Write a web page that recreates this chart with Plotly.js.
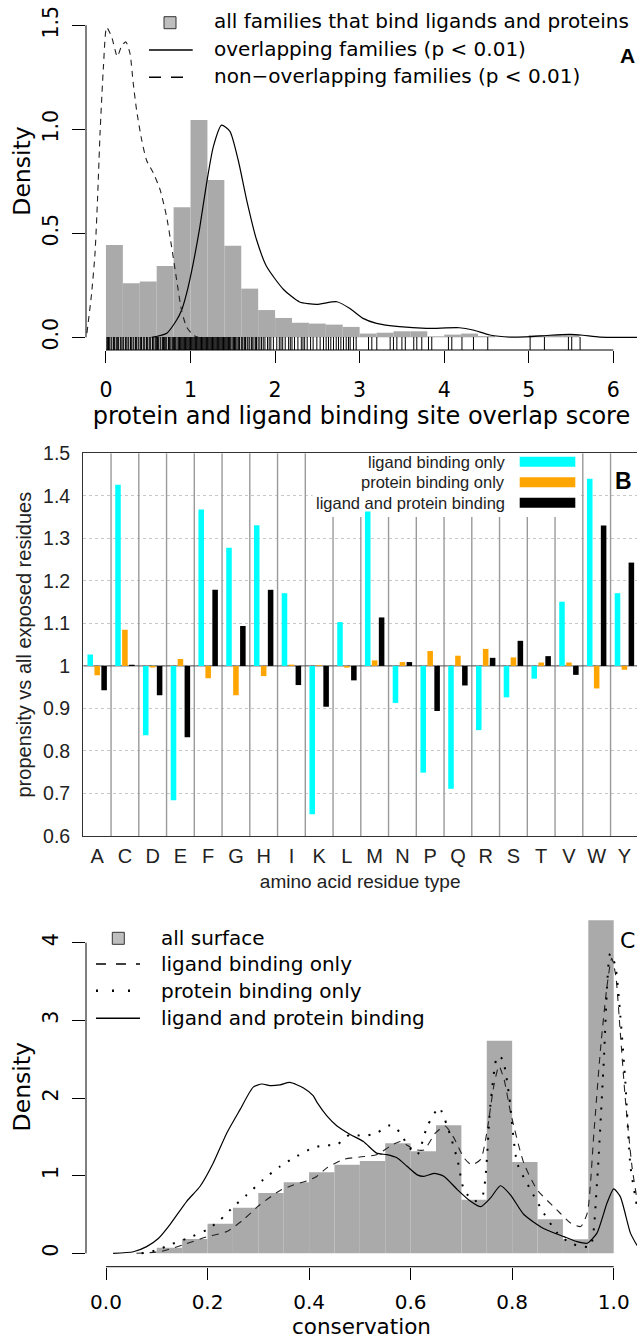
<!DOCTYPE html>
<html><head><meta charset="utf-8">
<script src="https://cdn.plot.ly/plotly-3.0.1.min.js"></script>
<style>html,body{margin:0;padding:0;background:#fff}#chart{width:637px;height:1341px}</style>
</head><body><div id="chart"></div>
<script>
// ---------------- Panel A data ----------------
const histA_mid = [0.1,0.3,0.5,0.7,0.9,1.1,1.3,1.5,1.7,1.9,2.1,2.3,2.5,2.7,2.9,3.1,3.3,3.5,3.7,3.9,4.1,4.3,4.5,4.7,4.9,5.1,5.3,5.5];
const histA_density = [0.444,0.26,0.268,0.343,0.625,1.045,0.756,0.44,0.234,0.131,0.093,0.07,0.066,0.061,0.05,0.018,0.022,0.029,0.029,0.005,0.013,0.018,0.006,0,0,0.011,0.011,0.011];
const overlapX = [0.54,0.72,0.836,0.894,0.953,1.032,1.11,1.19,1.27,1.367,1.466,1.565,1.664,1.78,1.9,2.1,2.29,2.49,2.73,2.88,3.04,3.2,3.47,3.79,4.18,4.34,4.54,4.78,5.02,5.25,5.49,5.64,5.84,6.28];
const overlapY = [0,0.02,0.083,0.13,0.21,0.356,0.53,0.74,0.917,1.02,0.99,0.85,0.66,0.47,0.34,0.23,0.17,0.158,0.171,0.14,0.091,0.067,0.051,0.043,0.046,0.035,0.011,0.001,0.003,0.01,0.014,0.01,0.001,0];
const nonOverlapX = [-0.225,-0.17,-0.13,-0.1,-0.07,-0.03,0.008,0.067,0.134,0.185,0.236,0.284,0.323,0.363,0.422,0.481,0.56,0.64,0.717,0.776,0.836,0.894,0.953,1.03,1.09];
const nonOverlapY = [0.02,0.21,0.4,0.66,0.98,1.3,1.49,1.445,1.35,1.4,1.42,1.365,1.22,1.09,0.95,0.85,0.79,0.71,0.58,0.436,0.276,0.13,0.05,0.011,0];
const rugA = [0.01,0.02,0.03,0.04,0.06,0.07,0.09,0.1,0.12,0.13,0.14,0.15,0.17,0.18,0.2,0.21,0.23,0.24,0.26,0.27,0.29,0.3,0.32,0.33,0.35,0.36,0.38,0.39,0.41,0.42,0.44,0.45,0.46,0.48,0.49,0.51,0.52,0.53,0.55,0.56,0.58,0.59,0.6,0.61,0.62,0.64,0.65,0.67,0.68,0.69,0.7,0.71,0.72,0.74,0.75,0.76,0.78,0.79,0.8,0.81,0.82,0.83,0.85,0.86,0.87,0.88,0.89,0.9,0.91,0.92,0.93,0.94,0.95,0.96,0.97,0.98,0.99,1.0,1.01,1.02,1.03,1.04,1.05,1.06,1.07,1.08,1.09,1.1,1.11,1.12,1.13,1.14,1.15,1.16,1.17,1.18,1.19,1.2,1.21,1.22,1.23,1.24,1.25,1.26,1.27,1.28,1.29,1.3,1.31,1.32,1.33,1.34,1.35,1.36,1.37,1.38,1.39,1.4,1.41,1.42,1.43,1.44,1.45,1.46,1.47,1.48,1.5,1.51,1.52,1.53,1.54,1.56,1.57,1.58,1.6,1.61,1.62,1.64,1.65,1.67,1.68,1.7,1.72,1.73,1.75,1.77,1.78,1.8,1.82,1.84,1.86,1.88,1.91,1.93,1.95,1.98,2.02,2.05,2.07,2.09,2.12,2.16,2.18,2.2,2.23,2.27,2.31,2.33,2.35,2.38,2.42,2.45,2.494,2.533,2.573,2.604,2.632,2.659,2.691,2.723,2.75,2.778,2.809,2.841,2.868,2.888,2.928,2.959,3.105,3.144,3.203,3.361,3.40,3.44,3.50,3.54,3.64,3.676,3.735,3.814,3.853,4.05,4.09,4.21,4.346,4.515,5.016,5.185,5.469,5.508,5.607];

// ---------------- Panel B data ----------------
const residues = ['A','C','D','E','F','G','H','I','K','L','M','N','P','Q','R','S','T','V','W','Y'];
const ligandOnly       = [1.027,1.426,0.837,0.684,1.368,1.278,1.331,1.171,0.651,1.103,1.363,0.913,0.749,0.711,0.849,0.926,0.970,1.151,1.440,1.171];
const proteinOnly      = [0.978,1.085,0.996,1.016,0.971,0.931,0.976,1.003,1.002,0.996,1.013,1.009,1.035,1.024,1.040,1.020,1.008,1.008,0.947,0.991];
const ligandAndProtein = [0.943,1.003,0.931,0.832,1.179,1.094,1.179,0.955,0.904,0.966,1.114,1.009,0.894,0.954,1.019,1.059,1.023,0.979,1.330,1.243];
const bTickVals = [0.6,0.7,0.8,0.9,1.0,1.1,1.2,1.3,1.4,1.5];
const bTickText = ['0.6','0.7','0.8','0.9','1','1.1','1.2','1.3','1.4','1.5'];

// ---------------- Panel C data ----------------
const histC_mid = [0.125,0.175,0.225,0.275,0.325,0.375,0.425,0.475,0.525,0.575,0.625,0.675,0.725,0.775,0.825,0.875,0.925,0.975];
const histC_density = [0.073,0.185,0.38,0.586,0.776,0.914,1.045,1.14,1.19,1.418,1.315,1.65,0.69,2.737,1.177,0.44,0.18,4.29];
const ligOnlyX = [0.06,0.106,0.152,0.198,0.238,0.27,0.303,0.343,0.369,0.395,0.415,0.435,0.468,0.5,0.533,0.56,0.58,0.606,0.626,0.649,0.668,0.685,0.705,0.72,0.738,0.75,0.764,0.774,0.784,0.797,0.823,0.849,0.888,0.915,0.935,0.948,0.961,0.974,0.987,0.996,1.004,1.013,1.023,1.036,1.046];
const ligOnlyY = [0,0.02,0.11,0.21,0.28,0.43,0.625,0.81,0.88,0.93,0.99,1.1,1.21,1.24,1.27,1.38,1.44,1.34,1.33,1.55,1.64,1.49,1.23,1.14,1.21,1.55,2.16,2.41,2.24,1.81,1.16,0.82,0.56,0.39,0.345,0.52,1.55,2.63,3.45,3.8,3.58,2.84,1.98,1.12,0.69];
const protOnlyX = [0.07,0.1,0.126,0.159,0.198,0.225,0.251,0.277,0.31,0.343,0.376,0.408,0.429,0.455,0.481,0.507,0.533,0.56,0.58,0.593,0.613,0.633,0.656,0.672,0.692,0.705,0.725,0.741,0.757,0.771,0.781,0.794,0.81,0.836,0.862,0.889,0.915,0.935,0.954,0.967,0.98,0.993,1.003,1.013,1.023,1.033,1.046];
const protOnlyY = [0,0.04,0.11,0.19,0.3,0.43,0.6,0.75,0.95,1.12,1.25,1.36,1.39,1.4,1.53,1.51,1.55,1.65,1.55,1.4,1.27,1.64,1.875,1.64,1.21,0.82,0.67,0.73,1.9,2.54,2.5,2.03,1.16,0.82,0.52,0.26,0.13,0.09,0.09,0.9,2.41,3.86,3.71,3.06,2.2,1.12,0.6];
const bothX = [0.014,0.054,0.08,0.103,0.126,0.159,0.185,0.211,0.238,0.264,0.29,0.307,0.323,0.343,0.362,0.389,0.408,0.416,0.435,0.455,0.481,0.507,0.533,0.553,0.573,0.593,0.613,0.626,0.646,0.666,0.692,0.718,0.738,0.757,0.777,0.797,0.823,0.862,0.902,0.928,0.948,0.967,0.987,1.0,1.013,1.033,1.046];
const bothY = [0,0.02,0.086,0.19,0.37,0.67,0.86,1.16,1.55,1.85,2.14,2.18,2.16,2.17,2.2,2.13,2.03,1.94,1.77,1.64,1.53,1.44,1.29,1.27,1.23,1.12,1.01,0.99,1.03,0.99,0.82,0.67,0.6,0.71,0.87,0.75,0.5,0.32,0.215,0.15,0.13,0.26,0.65,0.83,0.73,0.26,0.1];

// ---------------- layout helpers ----------------
const W = 637, H = 1341;
const px = v => v / W;
const py = v => 1 - v / H;
const FA = 'DejaVu Sans, sans-serif';
const FB = 'Liberation Sans, Arial, sans-serif';
const GRAY = '#aaaaaa';

const traces = [
  {type:'bar', x:histA_mid, y:histA_density, width:0.2, marker:{color:GRAY, line:{width:0}}, xaxis:'x', yaxis:'y', hoverinfo:'skip'},
  {type:'scatter', mode:'lines', x:overlapX, y:overlapY, line:{color:'black', width:1.2, shape:'spline', smoothing:0.6}, xaxis:'x', yaxis:'y'},
  {type:'scatter', mode:'lines', x:nonOverlapX, y:nonOverlapY, line:{color:'#222', width:1.1, dash:'6px,5px', shape:'spline', smoothing:0.6}, xaxis:'x', yaxis:'y'},
  {type:'scatter', mode:'markers', x:rugA, y:rugA.map(() => -0.0355), marker:{symbol:'line-ns-open', size:11, color:'black', line:{width:1, color:'black'}}, xaxis:'x', yaxis:'y'},

  {type:'bar', x:residues, y:ligandOnly.map(v => v - 1), base:1, width:0.2, offset:-0.35, marker:{color:'#00FFFF'}, xaxis:'x2', yaxis:'y2'},
  {type:'bar', x:residues, y:proteinOnly.map(v => v - 1), base:1, width:0.2, offset:-0.1, marker:{color:'#FFA500'}, xaxis:'x2', yaxis:'y2'},
  {type:'bar', x:residues, y:ligandAndProtein.map(v => v - 1), base:1, width:0.2, offset:0.15, marker:{color:'#000000'}, xaxis:'x2', yaxis:'y2'},

  {type:'bar', x:histC_mid, y:histC_density, width:0.05, marker:{color:GRAY, line:{width:0}}, xaxis:'x3', yaxis:'y3'},
  {type:'scatter', mode:'lines', x:ligOnlyX, y:ligOnlyY, line:{color:'#222', width:1.1, dash:'7px,6px', shape:'spline', smoothing:0.6}, xaxis:'x3', yaxis:'y3'},
  {type:'scatter', mode:'lines', x:protOnlyX, y:protOnlyY, line:{color:'black', width:2, dash:'2px,9px', shape:'spline', smoothing:0.6}, xaxis:'x3', yaxis:'y3'},
  {type:'scatter', mode:'lines', x:bothX, y:bothY, line:{color:'black', width:1.2, shape:'spline', smoothing:0.6}, xaxis:'x3', yaxis:'y3'}
];

const rAxis = {showgrid:false, zeroline:false, showline:false, ticks:'outside', ticklen:12, tickwidth:1, tickcolor:'black', tickfont:{family:FA, size:20.5, color:'black'}};

const layout = {
  width:W, height:H, margin:{l:0, r:0, t:0, b:0}, paper_bgcolor:'white', plot_bgcolor:'rgba(0,0,0,0)',
  showlegend:false, barmode:'overlay',
  xaxis: Object.assign({}, rAxis, {domain:[px(86),1], range:[-0.236,6.28], tickvals:[0,1,2,3,4,5,6], anchor:'y',
    ticklabelstandoff:9,
    title:{text:'protein and ligand binding site overlap score', font:{family:FA, size:24, color:'black'}, standoff:2}}),
  yaxis: Object.assign({}, rAxis, {domain:[py(350),py(12.8)], range:[-0.061,1.56], tickvals:[0,0.5,1,1.5], ticktext:['0.0','0.5','1.0','1.5'], tickangle:-90, ticklen:13, anchor:'x', ticklabelstandoff:6}),

  xaxis2: {domain:[px(83.3),1], range:[-0.5,19.453], anchor:'y2', type:'category', showgrid:false, zeroline:false,
    showline:true, mirror:true, linecolor:'#333', linewidth:1.2, ticks:'', tickfont:{family:FB, size:20, color:'#222'},
    ticklabelstandoff:2,
    title:{text:'amino acid residue type', font:{family:FB, size:19, color:'#222'}, standoff:8}},
  yaxis2: {domain:[py(836),py(453.3)], range:[0.6,1.5], anchor:'x2', tickvals:bTickVals, ticktext:bTickText,
    showgrid:true, gridcolor:'#c8c8c8', griddash:'dot', gridwidth:1, zeroline:false,
    showline:true, linecolor:'#333', linewidth:1.2, ticks:'', tickfont:{family:FB, size:19.5, color:'#222'},
    ticklabelstandoff:8,
    title:{text:'propensity vs all exposed residues', font:{family:FB, size:20, color:'#222'}, standoff:6}},

  xaxis3: Object.assign({}, rAxis, {domain:[px(86),1], range:[-0.0394,1.0459], tickvals:[0,0.2,0.4,0.6,0.8,1.0], ticktext:['0.0','0.2','0.4','0.6','0.8','1.0'], anchor:'y3',
    ticklabelstandoff:5, tickfont:{family:FA, size:20, color:'black'},
    title:{text:'conservation', font:{family:FA, size:21.5, color:'black'}, standoff:0}}),
  yaxis3: Object.assign({}, rAxis, {domain:[py(1266.7),py(919.4)], range:[-0.1726,4.3], tickvals:[0,1,2,3,4], tickangle:-90, ticklen:13, anchor:'x3', ticklabelstandoff:6}),

  shapes: [], annotations: []
};

const S = layout.shapes, A = layout.annotations;
// R-style axis lines (span first to last tick only)
S.push({type:'line', xref:'x', yref:'y domain', x0:0, x1:6, y0:0, y1:0, line:{color:'black', width:1}});
S.push({type:'line', xref:'x domain', yref:'y', x0:0, x1:0, y0:0, y1:1.5, line:{color:'black', width:1}});
S.push({type:'line', xref:'x3', yref:'y3 domain', x0:0, x1:1, y0:0, y1:0, line:{color:'black', width:1}});
S.push({type:'line', xref:'x3 domain', yref:'y3', x0:0, x1:0, y0:0, y1:4, line:{color:'black', width:1}});

// Panel B: legend backdrop (hides the gridline behind the legend), category separators, baseline
S.push({type:'rect', xref:'x2', yref:'y2', x0:7.76, x1:17.36, y0:1.362, y1:1.497, layer:'between', fillcolor:'white', line:{width:0}});
residues.slice(0, -1).forEach((r, i) => {
  const underLegend = i >= 8 && i <= 16;
  S.push({type:'line', xref:'x2', yref:'y2', x0:i + 0.5, x1:i + 0.5, y0:0.6, y1:underLegend ? 1.35 : 1.5, layer:'between', line:{color:'#9a9a9a', width:1.4}});
});
S.push({type:'line', xref:'x2', yref:'y2', x0:-0.5, x1:19.5, y0:1, y1:1, layer:'between', line:{color:'#555', width:1}});

// Legend A
S.push({type:'rect', xref:'paper', yref:'paper', x0:px(164), x1:px(176), y0:py(28.7), y1:py(16.7), fillcolor:'#bebebe', line:{color:'#333', width:1}});
S.push({type:'line', xref:'paper', yref:'paper', x0:px(149), x1:px(192.7), y0:py(50), y1:py(50), line:{color:'black', width:1.5}});
S.push({type:'line', xref:'paper', yref:'paper', x0:px(149), x1:px(192.7), y0:py(77.3), y1:py(77.3), line:{color:'black', width:1.5, dash:'12px,10px'}});
const legA = ['all families that bind ligands and proteins','overlapping families (p < 0.01)','non\u2212overlapping families (p < 0.01)'];
[21.5, 49, 76.5].forEach((y, i) => A.push({xref:'paper', yref:'paper', x:px(211.7), y:py(y), xanchor:'left', yanchor:'middle', text:legA[i], showarrow:false, font:{family:FA, size:20, color:'black'}}));
A.push({xref:'paper', yref:'paper', x:px(627), y:py(55), xanchor:'center', yanchor:'middle', text:'<b>A</b>', showarrow:false, font:{family:FB, size:21, color:'black'}});
A.push({xref:'paper', yref:'paper', x:px(21.7), y:py(171), xanchor:'center', yanchor:'middle', textangle:-90, text:'Density', showarrow:false, font:{family:FA, size:23.5, color:'black'}});

// Legend B
const legB = ['ligand binding only','protein binding only','ligand and protein binding'];
const colB = ['#00FFFF','#FFA500','#000000'];
[461.7, 482.3, 502.7].forEach((y, i) => {
  A.push({xref:'paper', yref:'paper', x:px(507), y:py(y), xanchor:'right', yanchor:'middle', text:legB[i], showarrow:false, font:{family:FB, size:16.5, color:'#222'}});
  S.push({type:'rect', xref:'paper', yref:'paper', x0:px(519.7), x1:px(575.3), y0:py(y + 5), y1:py(y - 5), fillcolor:colB[i], line:{width:0}});
});
A.push({xref:'paper', yref:'paper', x:px(623.7), y:py(481), xanchor:'center', yanchor:'middle', text:'<b>B</b>', showarrow:false, font:{family:FB, size:23, color:'black'}});

// Legend C
S.push({type:'rect', xref:'paper', yref:'paper', x0:px(112.3), x1:px(124.3), y0:py(944.3), y1:py(932.3), fillcolor:'#bebebe', line:{color:'#333', width:1}});
S.push({type:'line', xref:'paper', yref:'paper', x0:px(96), x1:px(140), y0:py(964), y1:py(964), line:{color:'black', width:1.5, dash:'10px,10px'}});
S.push({type:'line', xref:'paper', yref:'paper', x0:px(96), x1:px(140), y0:py(990.7), y1:py(990.7), line:{color:'black', width:2.5, dash:'2px,14px'}});
S.push({type:'line', xref:'paper', yref:'paper', x0:px(96), x1:px(140), y0:py(1018.3), y1:py(1018.3), line:{color:'black', width:1.5}});
const legC = ['all surface','ligand binding only','protein binding only','ligand and protein binding'];
[938, 964, 990.7, 1018].forEach((y, i) => A.push({xref:'paper', yref:'paper', x:px(159.3), y:py(y), xanchor:'left', yanchor:'middle', text:legC[i], showarrow:false, font:{family:FA, size:20, color:'black'}}));
A.push({xref:'paper', yref:'paper', x:px(627), y:py(940), xanchor:'center', yanchor:'middle', text:'C', showarrow:false, font:{family:FA, size:22, color:'black'}});
A.push({xref:'paper', yref:'paper', x:px(21.7), y:py(1086.7), xanchor:'center', yanchor:'middle', textangle:-90, text:'Density', showarrow:false, font:{family:FA, size:23.5, color:'black'}});

Plotly.newPlot('chart', traces, layout, {staticPlot:true, displayModeBar:false});
</script></body></html>
